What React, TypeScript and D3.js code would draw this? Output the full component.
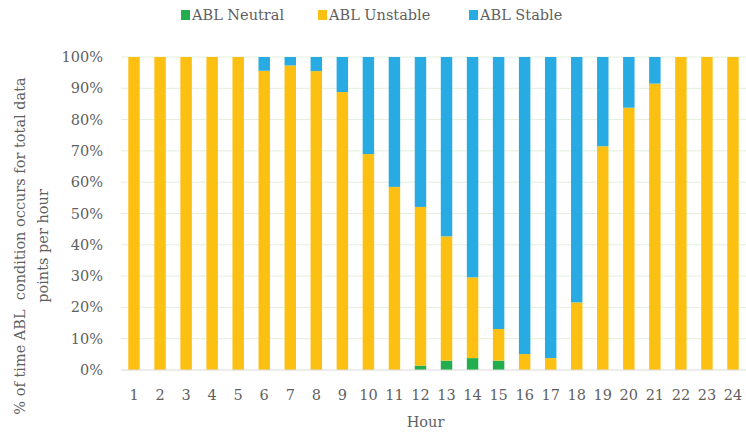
import React, { useEffect, useRef } from 'react'
import * as d3 from 'd3'

// hours on the x axis
const hours = d3.range(1, 25).map(String)

// % of data points per hour
const neutral = [0, 0, 0, 0, 0, 0, 0, 0, 0, 0, 0, 1.4, 3.0, 3.8, 3.0, 0, 0, 0, 0, 0, 0, 0, 0, 0]
const unstable = [100, 100, 100, 100, 100, 95.6, 97.3, 95.5, 88.8, 69.0, 58.5, 50.7, 39.7, 25.8, 10.1, 5.1, 3.8, 21.6, 71.5, 83.8, 91.5, 100, 100, 100]
const stable = [0, 0, 0, 0, 0, 4.4, 2.7, 4.5, 11.2, 31.0, 41.5, 47.9, 57.3, 70.4, 86.9, 94.9, 96.2, 78.4, 28.5, 16.2, 8.5, 0, 0, 0]

const seriesNames = ['ABL Neutral', 'ABL Unstable', 'ABL Stable']
const seriesColors = ['#22ad4e', '#fcc012', '#28abe2']
const yTicks = d3.range(0, 101, 10)

const W = 746
const H = 434
const FONT = '"DejaVu Serif", "Liberation Serif", serif'
const TXT = '#5f5f5f'

export default function App() {
  const svgRef = useRef<SVGSVGElement>(null)

  useEffect(() => {
    if (!svgRef.current) return
    const svg = d3.select(svgRef.current)
    svg.selectAll('*').remove()

    const margin = { top: 57, right: 0, bottom: 64, left: 121 }
    const innerW = W - margin.left - margin.right
    const innerH = H - margin.top - margin.bottom

    const g = svg.append('g').attr('transform', `translate(${margin.left},${margin.top})`)

    const x = d3.scaleBand().domain(hours).range([0, innerW]).paddingInner(0.56).paddingOuter(0.28)
    const y = d3.scaleLinear().domain([0, 100]).range([innerH, 0])

    // gridlines
    g.selectAll('.grid')
      .data(yTicks.filter(t => t > 0))
      .enter().append('line')
      .attr('x1', 0).attr('x2', innerW)
      .attr('y1', d => y(d)).attr('y2', d => y(d))
      .attr('stroke', '#e2efda')
      .attr('stroke-width', 1)

    // stacked bars
    const rows = hours.map((h, i) => ({ hour: h, n: neutral[i], u: unstable[i], s: stable[i] }))
    const stack = d3.stack<any>().keys(['n', 'u', 's'])(rows)

    stack.forEach((layer, k) => {
      g.append('g')
        .selectAll('rect')
        .data(layer)
        .enter().append('rect')
        .attr('x', d => x(d.data.hour)!)
        .attr('width', x.bandwidth())
        .attr('y', d => y(d[1]))
        .attr('height', d => Math.max(0, y(d[0]) - y(d[1])))
        .attr('fill', seriesColors[k])
    })

    // bottom axis line
    g.append('line')
      .attr('x1', 0).attr('x2', innerW)
      .attr('y1', innerH).attr('y2', innerH)
      .attr('stroke', '#d9d9d9')

    // y labels
    g.selectAll('.ylab')
      .data(yTicks)
      .enter().append('text')
      .attr('x', -18)
      .attr('y', d => y(d))
      .attr('dy', '0.35em')
      .attr('text-anchor', 'end')
      .attr('fill', TXT)
      .style('font-family', FONT)
      .style('font-size', '14.5px')
      .text(d => d + '%')

    // x labels
    g.selectAll('.xlab')
      .data(hours)
      .enter().append('text')
      .attr('x', d => x(d)! + x.bandwidth() / 2)
      .attr('y', innerH + 30)
      .attr('text-anchor', 'middle')
      .attr('fill', TXT)
      .style('font-family', FONT)
      .style('font-size', '14.5px')
      .text(d => d)

    // x title
    g.append('text')
      .attr('x', innerW / 2 - 8)
      .attr('y', innerH + 57)
      .attr('text-anchor', 'middle')
      .attr('fill', TXT)
      .style('font-family', FONT)
      .style('font-size', '14.5px')
      .text('Hour')

    // y title, two lines
    const yt = svg.append('text')
      .attr('transform', `translate(20,${246}) rotate(-90)`)
      .attr('text-anchor', 'middle')
      .attr('fill', TXT)
      .style('font-family', FONT)
      .style('font-size', '14.5px')
      .style('white-space', 'pre')
    yt.append('tspan').attr('x', 0).attr('dy', '0.35em').text('% of time ABL  condition occurs for total data')
    yt.append('tspan').attr('x', 0).attr('dy', 23).text('points per hour')

    // legend
    const legendX = [181, 318, 469]
    const legend = svg.append('g')
    seriesNames.forEach((name, i) => {
      legend.append('rect')
        .attr('x', legendX[i]).attr('y', 10)
        .attr('width', 9).attr('height', 10)
        .attr('fill', seriesColors[i])
      legend.append('text')
        .attr('x', legendX[i] + 11).attr('y', 15)
        .attr('dy', '0.35em')
        .attr('fill', TXT)
        .style('font-family', FONT)
        .style('font-size', '14.5px')
        .text(name)
    })
  }, [])

  return (
    <div style={{ position: 'absolute', left: 0, top: 0 }}>
      <svg ref={svgRef} width={W} height={H} style={{ display: 'block', background: '#fff' }} />
    </div>
  )
}
